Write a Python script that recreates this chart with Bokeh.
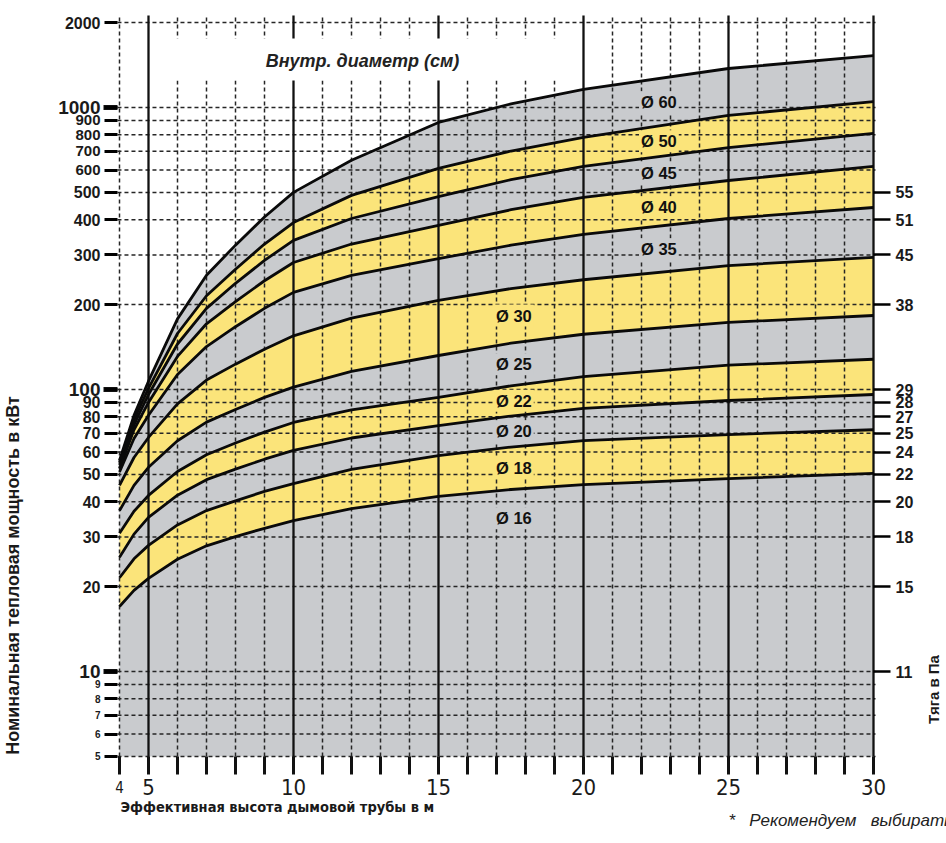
import math
import numpy as np
from bokeh.plotting import figure
from bokeh.models import Range1d, FixedTicker, LogAxis, Label, BoxAnnotation
from bokeh.core.properties import value
from bokeh.embed import file_html
from bokeh.resources import INLINE

# ---------------- data ----------------
heights = [4, 4.5, 5, 6, 7, 8, 9, 10, 12, 15, 17.5, 20, 25, 30]   # effective chimney height, m

# boundary curves, nominal heat output in kW (top to bottom)
curve_1 = [56, 81, 107, 178, 254, 325, 409, 500, 650, 885, 1030, 1159, 1375, 1528]
curve_2 = [55, 78, 101, 158, 215, 267, 328, 391, 488, 608, 701, 783, 937, 1050]
curve_3 = [54, 75, 96, 145, 194, 238, 287, 338, 404, 483, 555, 618, 721, 809]
curve_4 = [52.5, 72, 90, 131, 171, 205, 243, 282, 328, 382, 434, 480, 551, 618]
curve_5 = [51, 67, 81, 113, 142, 167, 194, 221, 254, 291, 325, 355, 404, 442]
curve_6 = [45.7, 57.4, 67.6, 88.9, 108, 123, 139, 155, 179, 207, 228, 245, 275, 294]
curve_7 = [37.2, 45.7, 53, 65.8, 76.6, 84.9, 93.8, 102, 116, 132, 146, 157, 173, 183]
curve_8 = [30.9, 37, 42.1, 51.2, 58.7, 64.6, 70.6, 76.4, 84.7, 93.7, 103, 111, 122, 128]
curve_9 = [25.4, 30.7, 35.2, 42.2, 47.9, 52.2, 56.6, 60.8, 67.3, 74.5, 80.5, 85.7, 91.4, 96]
curve_10 = [21.5, 25.1, 28, 33.1, 37.2, 40.3, 43.5, 46.4, 52.1, 58.3, 62.5, 65.9, 69.2, 72]
curve_11 = [17, 19.4, 21.4, 25, 27.9, 30.1, 32.2, 34.3, 37.8, 41.8, 44.2, 46, 48.3, 50.4]

diameters = ["Ø 60", "Ø 50", "Ø 45", "Ø 40", "Ø 35", "Ø 30", "Ø 25", "Ø 22", "Ø 20", "Ø 18", "Ø 16"]

kw_ticks = [5, 6, 7, 8, 9, 10, 20, 30, 40, 50, 60, 70, 80, 90, 100,
            200, 300, 400, 500, 600, 700, 800, 900, 1000, 2000]
kw_decades = [10, 100, 1000]
pa_tick_kw = [10, 20, 30, 40, 50, 60, 70, 80, 90, 100, 200, 300, 400, 500]
pa_tick_labels = ["11", "15", "18", "20", "22", "24", "25", "27", "28", "29", "38", "45", "51", "55"]

x_major = [4, 5, 10, 15, 20, 25, 30]
x_solid = [5, 10, 15, 20, 25, 30]
x_all = list(range(4, 31))

title_text = "Внутр. диаметр (см)"
y_title = "Номинальная тепловая мощность в кВт"
y2_title = "Тяга в Па"
x_title = "Эффективная высота дымовой трубы в м"
footnote = "*\u00a0\u00a0\u00a0Рекомендуем\u00a0\u00a0\u00a0выбирать"

# ---------------- styling / geometry ----------------
GRAY = "#c9cbce"
YELLOW = "#fbe47a"
FONT = "Liberation Sans"
NARROW = "Liberation Sans Narrow, DejaVu Sans Condensed, Liberation Sans, sans-serif"
INK = "#1a1a1a"

W, H = 946, 843
X_LO, X_HI = 4.0, 30.0          # chart area (data)
Y_LO, Y_HI = 5.0, 2120.0
PX_PER_M = 29.0
PX_PER_DEC = 282.0


def dx(px):      # page pixel column -> data x
    return 5 + (px - 148) / PX_PER_M


def dy(py):      # page pixel row -> data y (log)
    return 10 ** (1 + (671 - py) / PX_PER_DEC)


p = figure(width=W, height=H,
           x_range=Range1d(dx(0), dx(W)), y_range=Range1d(dy(H), dy(0)),
           y_axis_type="log", output_backend="svg", toolbar_location=None,
           min_border=0)
p.title.visible = False
p.outline_line_color = None
p.background_fill_color = "white"
p.border_fill_color = "white"
p.xgrid.visible = False
p.ygrid.visible = False

curves = [curve_1, curve_2, curve_3, curve_4, curve_5, curve_6,
          curve_7, curve_8, curve_9, curve_10, curve_11]

# bands
band_colors = []
for i in range(len(diameters)):
    upper = curves[i]
    lower = curves[i + 1] if i + 1 < len(curves) else [Y_LO] * len(heights)
    col = GRAY if i % 2 == 0 else YELLOW
    band_colors.append(col)
    p.varea(x=heights, y1=lower, y2=upper, fill_color=col, fill_alpha=1.0)

# grid lines limited to the chart area
ext = 0.07
p.segment(x0=[X_LO - ext] * len(kw_ticks), y0=kw_ticks,
          x1=[X_HI + ext] * len(kw_ticks), y1=kw_ticks,
          line_color="#262626", line_dash="4 3", line_width=1.5)
x_dashed = [v for v in x_all if v not in x_solid]
p.segment(x0=x_dashed, y0=[Y_LO] * len(x_dashed), x1=x_dashed, y1=[Y_HI] * len(x_dashed),
          line_color="#262626", line_dash="4 3", line_width=1.5)
p.segment(x0=x_solid, y0=[Y_LO] * len(x_solid), x1=x_solid, y1=[Y_HI] * len(x_solid),
          line_color="#111111", line_width=2.3)

# tick marks under the chart (every metre) and heavier decade ticks on the left
p.segment(x0=x_all, y0=[Y_LO] * len(x_all), x1=x_all, y1=[dy(774)] * len(x_all),
          line_color="#111111", line_width=3)
p.segment(x0=[dx(103)] * len(kw_decades), y0=kw_decades,
          x1=[X_LO - ext] * len(kw_decades), y1=kw_decades,
          line_color="#111111", line_width=5)

# curves
for c in curves:
    p.line(heights, c, line_color="#0a0a0a", line_width=2.8)

# left axis (ticks), fixed at the left edge of the chart
ya = p.yaxis[0]
ya.fixed_location = X_LO - ext
ya.ticker = FixedTicker(ticks=kw_ticks)
ya.major_label_overrides = {t: "" for t in kw_ticks}
ya.major_tick_out = 13
ya.major_tick_in = 0
ya.major_tick_line_width = 3
ya.minor_tick_out = 0
ya.axis_line_color = None

# left tick labels: sizes vary as in the original scale
left_sizes = []
for t in kw_ticks:
    if t in (10, 100, 1000):
        left_sizes.append("19px")
    elif t < 10:
        left_sizes.append("10px")
    elif t in (600, 700, 800, 900):
        left_sizes.append("15px")
    else:
        left_sizes.append("16px")
p.text(x=[dx(100)] * len(kw_ticks), y=kw_ticks, text=[str(t) for t in kw_ticks],
       text_align="right", text_baseline="middle", text_font=value(FONT),
       text_font_style="bold", text_font_size=left_sizes, text_color=INK)

# right axis (draught in Pa), fixed at x = 30
ra = LogAxis(ticker=FixedTicker(ticks=pa_tick_kw),
             major_label_overrides=dict(zip(pa_tick_kw, pa_tick_labels)))
ra.fixed_location = X_HI
ra.major_tick_out = 17
ra.major_tick_in = 0
ra.major_tick_line_width = 2.5
ra.minor_tick_out = 0
ra.axis_line_color = None
ra.major_label_text_font = FONT
ra.major_label_text_font_style = "bold"
ra.major_label_text_font_size = "16px"
ra.major_label_text_color = INK
ra.major_label_standoff = 5
p.add_layout(ra, "right")

# bottom scale labels
p.xaxis[0].visible = False
bottom_sizes = ["15px" if v == 4 else "22px" for v in x_major]
p.text(x=x_major, y=[dy(786)] * len(x_major), text=[str(v) for v in x_major],
       text_align="center", text_baseline="middle", text_font=value(NARROW),
       text_font_size=bottom_sizes, text_color=INK)

# title box
p.add_layout(BoxAnnotation(left=dx(172), right=dx(557), bottom=dy(80), top=dy(38),
                           fill_color="white", fill_alpha=1.0, line_color=None))
p.add_layout(Label(x=dx(362), y=dy(60), text=title_text, text_align="center",
                   text_baseline="middle", text_font=FONT, text_font_style="bold italic",
                   text_font_size="18px", text_color="#222222"))


# diameter labels (middle of each band)
def log_interp(x, ys):
    return float(np.interp(x, heights, np.log10(ys)))


for i, name in enumerate(diameters):
    lx = 22.6 if i < 5 else 17.6
    up = log_interp(lx, curves[i])
    if i + 1 < len(curves):
        lo = log_interp(lx, curves[i + 1])
        ly = 10 ** ((up + lo) / 2)
    else:
        ly = 10 ** (up - 0.103)
    kw = dict(x=lx, y=ly, text=name, text_align="center", text_baseline="middle",
              text_font=FONT, text_font_style="bold", text_font_size="16.5px",
              text_color="#111111", background_fill_color=band_colors[i],
              background_fill_alpha=1.0)
    try:
        lab = Label(padding=2, **kw)
    except Exception:
        lab = Label(**kw)
    p.add_layout(lab)

# axis titles and footnote
p.add_layout(Label(x=dx(12), y=dy(575), text=y_title, angle=math.pi / 2,
                   text_align="center", text_baseline="middle", text_font=FONT,
                   text_font_style="bold", text_font_size="18px", text_color=INK))
p.add_layout(Label(x=dx(933), y=dy(689), text=y2_title, angle=math.pi / 2,
                   text_align="center", text_baseline="middle", text_font=FONT,
                   text_font_style="bold", text_font_size="15px", text_color=INK))
p.add_layout(Label(x=dx(120), y=dy(806), text=x_title, text_align="left",
                   text_baseline="middle", text_font=NARROW, text_font_style="bold",
                   text_font_size="14.5px", text_color=INK))
p.add_layout(Label(x=dx(728), y=dy(820), text=footnote, text_align="left",
                   text_baseline="middle", text_font=FONT, text_font_style="italic",
                   text_font_size="17px", text_color="#222222"))

open("out.html", "w").write(file_html(p, INLINE))
